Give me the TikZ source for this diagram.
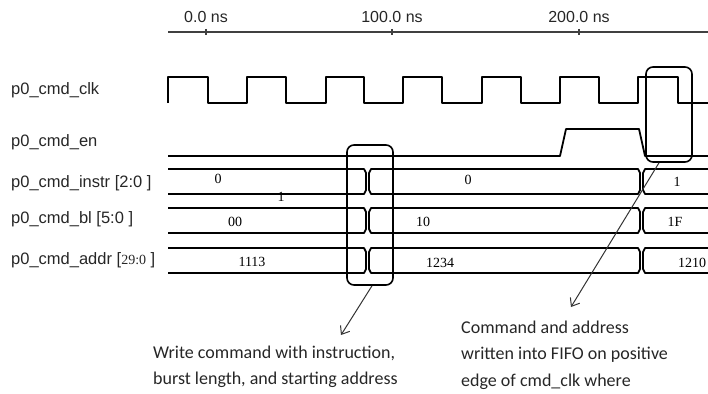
\documentclass[tikz,border=0pt]{standalone}
\usepackage{fontspec}
\setmainfont{Liberation Sans}
\newfontfamily\calibfont{Carlito}
\newfontfamily\tmsfont{Liberation Serif}
\usetikzlibrary{arrows.meta}
\tikzset{
  sig/.style={line width=1.8pt, line join=round},
  axisline/.style={line width=1.2pt, draw=black!75},
  hlbox/.style={draw, line width=1.6pt, rounded corners=7pt, minimum width=46pt, inner sep=0pt},
  note/.style={anchor=north west, align=left, inner sep=0pt, font=\calibfont\fontsize{18}{26.5}\selectfont, text=black!85},
  lbl/.style={anchor=base west, inner sep=0pt, font=\fontsize{16.5}{20}\selectfont, text=black!85},
  val/.style={anchor=base, inner sep=0pt, font=\tmsfont\fontsize{14}{16}\selectfont},
  tlab/.style={anchor=base, inner sep=0pt, font=\fontsize{16}{20}\selectfont, text=black!85},
  arr/.style={-{Straight Barb[length=7pt,width=11pt]}, line width=1pt, draw=black!80}
}
\begin{document}
\begin{tikzpicture}[x=1pt,y=-1pt]
\useasboundingbox (0,0) rectangle (708,393);
% time axis
\draw[axisline] (168,32) -- (708,32);
\foreach \tx/\tt in {206/0.0 ns, 392/100.0 ns, 579/200.0 ns}{
  \draw[axisline] (\tx,29) -- (\tx,35);
  \node[tlab] (t\tx) at (\tx,22.7) {\tt};
}
% signal labels
\node[lbl] (lclk) at (11,95) {p0\_cmd\_clk};
\node[lbl] (len) at (11,146) {p0\_cmd\_en};
\node[lbl] (linstr) at (11,187) {p0\_cmd\_instr [2:0 ]};
\node[lbl] (lbl) at (11,223.5) {p0\_cmd\_bl [5:0 ]};
\node[lbl] (laddr) at (11,264) {p0\_cmd\_addr [{\tmsfont\fontsize{14}{16}\selectfont 29:0} ]};
% clock
\draw[sig] (168,103) -- (168,77) -- (208,77) -- (208,103) -- (247,103) -- (247,77)
  -- (286,77) -- (286,103) -- (326,103) -- (326,77) -- (364,77) -- (364,103)
  -- (403,103) -- (403,77) -- (442,77) -- (442,103) -- (482,103) -- (482,77)
  -- (521,77) -- (521,103) -- (560,103) -- (560,77) -- (599,77) -- (599,103)
  -- (638,103) -- (638,77) -- (678,77) -- (678,103) -- (708,103);
% enable
\draw[sig] (168,156) -- (560,156) -- (566,129) -- (639,129) -- (645,156) -- (708,156);
% buses
\foreach \t/\b in {169/194, 208/233, 248/273}{
  \draw[sig] (168,\t) -- (364,\t) -- (366,\t+4) -- (366,\b-4) -- (364,\b) -- (168,\b);
  \draw[sig] (371,\t) -- (369,\t+4) -- (369,\b-4) -- (371,\b) -- (638,\b)
    -- (640,\b-4) -- (640,\t+4) -- (638,\t) -- cycle;
  \draw[sig] (708,\t) -- (645,\t) -- (643,\t+4) -- (643,\b-4) -- (645,\b) -- (708,\b);
}
% values
\node[val] (v1) at (218,183.3) {0};
\node[val] (v2) at (281,201.5) {1};
\node[val] (v3) at (468,184) {0};
\node[val] (v4) at (677,186) {1};
\node[val] (v5) at (235,226) {00};
\node[val] (v6) at (423,226.5) {10};
\node[val] (v7) at (675,226.5) {1F};
\node[val] (v8) at (252,266.7) {1113};
\node[val] (v9) at (440,267) {1234};
\node[val] (v10) at (692,267) {1210};
% highlight boxes
\node[hlbox, minimum height=95pt] (box1) at (669,114.5) {};
\node[hlbox, minimum height=140pt] (box2) at (370,215) {};
% notes
\coordinate (tip1) at (341,335);
\coordinate (tip2) at (571,307);
\draw[arr] ([xshift=2pt]box2.south) -- (tip1);
\draw[arr] ([xshift=-10pt]box1.south) -- (tip2);
\node[note] (n1) at (153,345.5) {Write command with instruction,\\burst length, and starting address};
\node[note] (n2) at (461,320.5) {Command and address\\written into FIFO on positive\\edge of cmd\_clk where};
\end{tikzpicture}
\end{document}
